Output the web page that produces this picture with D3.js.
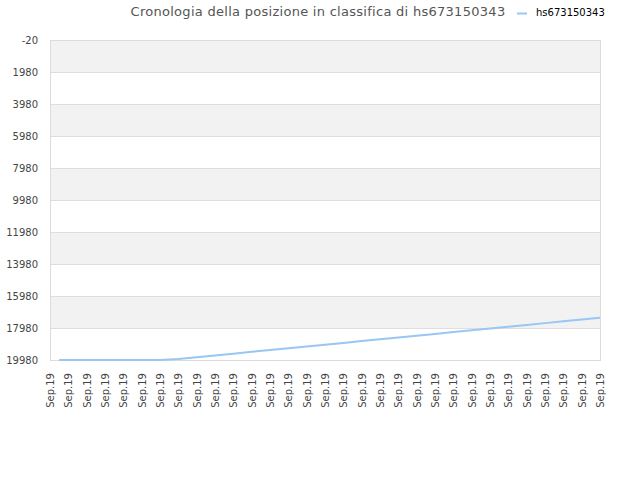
<!DOCTYPE html>
<html lang="it">
<head>
  <meta charset="utf-8" />
  <title>Cronologia della posizione in classifica</title>
  <script src="https://cdn.jsdelivr.net/npm/d3@7"></script>
  <style>
    body { margin: 0; background: #fff; }
    text { font-family: "DejaVu Sans", sans-serif; }
  </style>
</head>
<body>
<svg id="chart" width="640" height="480"></svg>
<script>
// data
var title = "Cronologia della posizione in classifica di hs673150343";
var seriesName = "hs673150343";
var xLabels = d3.range(31).map(function () { return "Sep.19"; });
var yTicks = [-20, 1980, 3980, 5980, 7980, 9980, 11980, 13980, 15980, 17980, 19980];
// position along the date axis (index into xLabels) and rank at that position
var positions = [0.5, 1, 2, 3, 4, 5, 6, 7, 8, 9, 10, 11, 12, 13, 14, 15, 16, 17, 18, 19, 20,
                 21, 22, 23, 24, 25, 26, 27, 28, 29, 30];
var ranks = [19980, 19980, 19980, 19980, 19980, 19980, 19980, 19920, 19810, 19700, 19585,
             19470, 19360, 19245, 19135, 19020, 18910, 18800, 18685, 18575, 18460,
             18350, 18235, 18125, 18010, 17900, 17790, 17675, 17565, 17450, 17340];

var svg = d3.select("#chart");
var plotL = 50, plotR = 600, plotT = 40, plotB = 360;

var x = d3.scaleLinear().domain([0, xLabels.length - 1]).range([plotL, plotR]);
var y = d3.scaleLinear().domain([-20, 19980]).range([plotT, plotB]);

// alternating bands
var bands = yTicks.slice(0, -1).map(function (v, i) { return [v, yTicks[i + 1], i]; });
svg.append("g").selectAll("rect").data(bands).enter().append("rect")
    .attr("x", plotL)
    .attr("width", plotR - plotL)
    .attr("y", function (d) { return y(d[0]); })
    .attr("height", function (d) { return y(d[1]) - y(d[0]); })
    .attr("fill", function (d) { return d[2] % 2 === 0 ? "#f2f2f2" : "#ffffff"; });

// grid lines
svg.append("g").selectAll("line").data(yTicks).enter().append("line")
    .attr("x1", plotL).attr("x2", plotR)
    .attr("y1", function (d) { return y(d) + 0.5; })
    .attr("y2", function (d) { return y(d) + 0.5; })
    .attr("stroke", "#dedede");

// frame
svg.append("rect")
    .attr("x", plotL + 0.5).attr("y", plotT + 0.5)
    .attr("width", plotR - plotL).attr("height", plotB - plotT)
    .attr("fill", "none").attr("stroke", "#dcdcdc");

// y axis labels
var yAxis = d3.axisLeft(y).tickValues(yTicks).tickSize(0).tickPadding(12)
    .tickFormat(function (d) { return String(d); });
svg.append("g").attr("transform", "translate(" + plotL + ",0)").call(yAxis)
    .call(function (g) { g.select(".domain").remove(); })
    .selectAll("text")
    .attr("fill", "#444").style("font-size", "10px");

// x axis labels
var xAxis = d3.axisBottom(x).tickValues(d3.range(xLabels.length)).tickSize(0)
    .tickFormat(function (i) { return xLabels[i]; });
svg.append("g").attr("transform", "translate(0," + plotB + ")").call(xAxis)
    .call(function (g) { g.select(".domain").remove(); })
    .selectAll("text")
    .attr("fill", "#444").style("font-size", "10px")
    .attr("transform", "rotate(-90)")
    .attr("text-anchor", "end")
    .attr("x", -13).attr("y", 0).attr("dy", "0.35em");

// series line
var pts = positions.map(function (p, i) { return [p, ranks[i]]; });
svg.append("path").datum(pts)
    .attr("fill", "none")
    .attr("stroke", "#99c6f4")
    .attr("stroke-width", 2)
    .attr("d", d3.line().x(function (d) { return x(d[0]); }).y(function (d) { return y(d[1]); }));

// title
svg.append("text")
    .attr("x", 318).attr("y", 16)
    .attr("text-anchor", "middle")
    .attr("fill", "#555")
    .style("font-size", "13px")
    .style("letter-spacing", "0.28px")
    .text(title);

// legend
svg.append("line")
    .attr("x1", 517).attr("x2", 527).attr("y1", 13.5).attr("y2", 13.5)
    .attr("stroke", "#99c6f4").attr("stroke-width", 2);
svg.append("text")
    .attr("x", 536).attr("y", 16)
    .attr("fill", "#000")
    .style("font-size", "10px")
    .text(seriesName);
</script>
</body>
</html>
